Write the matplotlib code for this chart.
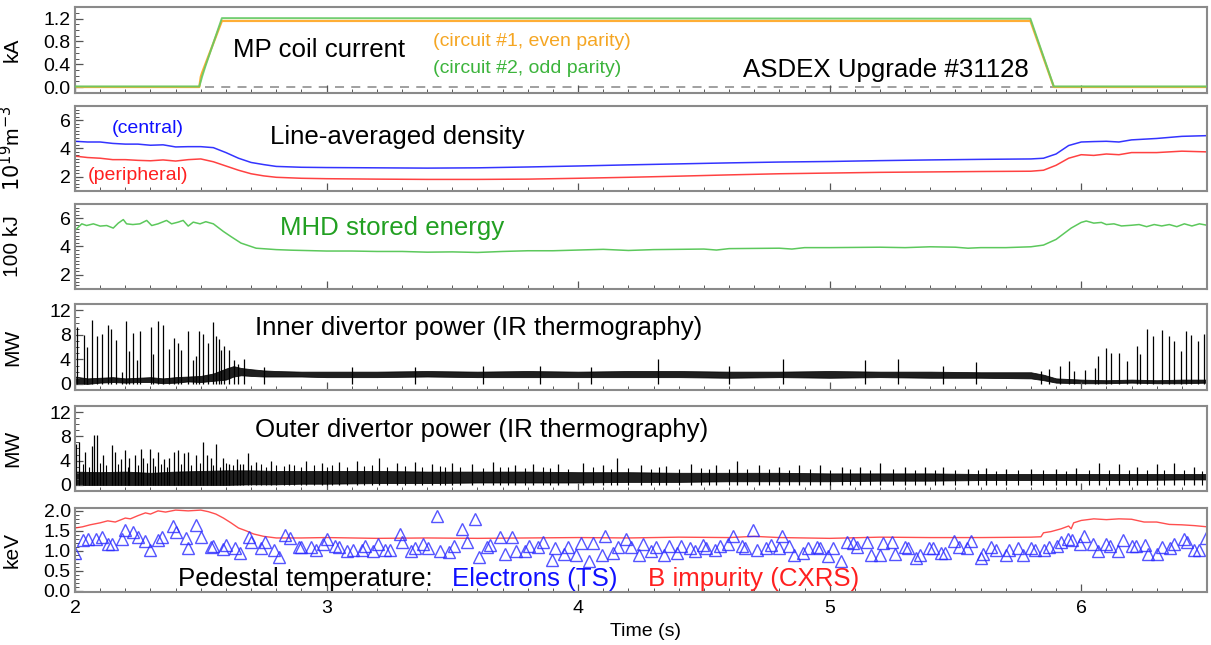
import numpy as np
import matplotlib
matplotlib.use("Agg")
import matplotlib.pyplot as plt
from matplotlib.ticker import MultipleLocator, FixedLocator, NullFormatter

plt.rcParams['font.family'] = ['Liberation Sans', 'DejaVu Sans']

# ---------------- data ----------------
# MP coil current (kA)
current_t = [2.0, 2.494, 2.500, 2.505, 2.518, 2.584, 5.798, 5.891, 6.5]
coil1_kA = [0.0, 0.0, 0.18, 0.25, 0.40, 1.16, 1.16, 0.0, 0.0]
coil2_kA = [0.01, 0.01, 0.10, 0.18, 0.36, 1.21, 1.20, 0.01, 0.01]

# line-averaged density (1e19 m^-3)
dens_t = [2.0, 2.05, 2.1, 2.15, 2.2, 2.25, 2.3, 2.35, 2.4, 2.45, 2.5, 2.55, 2.6, 2.65, 2.7,
          2.75, 2.8, 2.9, 3.0, 3.2, 3.4, 3.6, 3.8, 4.0, 4.2, 4.4, 4.6, 4.8, 5.0, 5.2, 5.4,
          5.6, 5.8, 5.85, 5.9, 5.95, 6.0, 6.05, 6.1, 6.15, 6.2, 6.3, 6.4, 6.5]
dens_central = [4.5, 4.45, 4.45, 4.35, 4.3, 4.3, 4.22, 4.25, 4.1, 4.12, 4.12, 4.05, 3.7, 3.3, 3.0,
                2.85, 2.72, 2.66, 2.64, 2.62, 2.6, 2.62, 2.68, 2.75, 2.83, 2.9, 2.97, 3.03, 3.07, 3.13, 3.18,
                3.22, 3.25, 3.3, 3.6, 4.2, 4.45, 4.48, 4.5, 4.45, 4.6, 4.7, 4.85, 4.9]
dens_peripheral = [3.45, 3.35, 3.3, 3.2, 3.2, 3.15, 3.12, 3.18, 3.1, 3.2, 3.25, 3.05, 2.75, 2.45, 2.2,
                   2.05, 1.95, 1.88, 1.85, 1.82, 1.8, 1.8, 1.82, 1.88, 1.95, 2.03, 2.12, 2.2, 2.25, 2.3, 2.33,
                   2.36, 2.38, 2.45, 2.8, 3.3, 3.55, 3.5, 3.6, 3.55, 3.7, 3.7, 3.8, 3.75]

# MHD stored energy (100 kJ)
wmhd_t = [2.0, 2.013, 2.027, 2.046, 2.073, 2.10, 2.126, 2.152, 2.172, 2.192, 2.205, 2.23, 2.258,
          2.285, 2.305, 2.33, 2.364, 2.384, 2.41, 2.43, 2.45, 2.47, 2.497, 2.52, 2.55, 2.59, 2.62,
          2.66, 2.72, 2.8, 2.86, 3.0, 3.1, 3.2, 3.3, 3.4, 3.5, 3.6, 3.7, 3.8, 3.9, 4.0, 4.1, 4.2,
          4.3, 4.4, 4.5, 4.55, 4.6, 4.8, 4.85, 4.9, 5.0, 5.2, 5.3, 5.4, 5.5, 5.55, 5.6, 5.7, 5.8,
          5.85, 5.9, 5.93, 5.96, 5.98, 6.0, 6.02, 6.05, 6.08, 6.1, 6.13, 6.16, 6.2, 6.23, 6.26,
          6.29, 6.32, 6.35, 6.38, 6.41, 6.44, 6.47, 6.5]
wmhd = [5.13, 5.36, 5.6, 5.48, 5.6, 5.44, 5.48, 5.3, 5.65, 5.9, 5.6, 5.55, 5.6,
        5.84, 5.48, 5.6, 5.84, 5.6, 5.72, 5.84, 5.44, 5.72, 5.6, 5.75, 5.6, 5.06, 4.7,
        4.24, 3.88, 3.78, 3.74, 3.68, 3.68, 3.65, 3.65, 3.6, 3.62, 3.58, 3.65, 3.7, 3.7, 3.75, 3.8, 3.72,
        3.78, 3.8, 3.82, 3.75, 3.85, 3.88, 3.82, 3.92, 3.92, 3.95, 3.92, 3.98, 3.95, 3.88, 3.92, 3.92, 3.98,
        4.1, 4.5, 4.9, 5.3, 5.5, 5.7, 5.8, 5.65, 5.7, 5.55, 5.6, 5.45, 5.5, 5.55, 5.4,
        5.55, 5.45, 5.55, 5.4, 5.6, 5.45, 5.6, 5.5]

# inner divertor power (MW): dense-noise envelope and ELM spikes
inner_band_t = [2.0, 2.05, 2.1, 2.15, 2.2, 2.25, 2.3, 2.35, 2.4, 2.45, 2.5, 2.55, 2.6, 2.63, 2.66,
                2.7, 2.75, 2.8, 2.9, 3.0, 3.2, 3.4, 3.6, 3.8, 4.0, 4.2, 4.4, 4.6, 4.8, 5.0, 5.2,
                5.4, 5.6, 5.8, 5.85, 5.9, 6.0, 6.1, 6.2, 6.3, 6.4, 6.5]
inner_lo = [0.1, 0.0, 0.2, 0.3, 0.2, 0.3, 0.3, 0.1, 0.2, 0.4, 0.3, 0.5, 0.7, 1.2, 1.4,
            1.3, 1.2, 1.2, 1.2, 1.1, 1.1, 1.2, 1.1, 1.1, 1.1, 1.1, 1.1, 1.0, 1.1, 1.0, 1.1,
            1.0, 1.0, 0.9, 0.6, 0.2, 0.1, 0.1, 0.2, 0.1, 0.1, 0.2]
inner_hi = [1.2, 0.9, 1.0, 1.1, 0.9, 1.0, 1.1, 0.9, 1.1, 1.2, 1.3, 1.7, 2.5, 2.9, 2.6,
            2.4, 2.2, 2.1, 2.0, 2.0, 2.0, 2.1, 2.0, 2.1, 2.0, 2.1, 2.1, 2.0, 2.0, 2.1, 2.0,
            2.0, 1.9, 1.9, 1.5, 0.9, 0.7, 0.6, 0.7, 0.6, 0.7, 0.7]
inner_spike_t = [2.009, 2.036, 2.049, 2.068, 2.089, 2.107, 2.130, 2.144, 2.162, 2.186, 2.203, 2.216,
                 2.229, 2.245, 2.260, 2.302, 2.311, 2.329, 2.349, 2.375, 2.395, 2.408, 2.421, 2.450,
                 2.470, 2.481, 2.493, 2.510, 2.530, 2.547, 2.560, 2.571, 2.579, 2.592, 2.613, 2.632,
                 2.649, 2.672, 2.75, 3.10, 3.35, 3.62, 3.85, 4.05, 4.319, 4.60, 4.814, 5.14, 5.27,
                 5.45, 5.58, 5.84, 5.87, 5.915, 5.953, 5.97, 6.014, 6.054, 6.065, 6.10, 6.12, 6.15,
                 6.18, 6.22, 6.235, 6.263, 6.285, 6.32, 6.348, 6.37, 6.395, 6.418, 6.438, 6.463, 6.487]
inner_spike_mw = [9.3, 8.0, 6.1, 10.5, 7.8, 8.1, 9.7, 8.9, 7.2, 2.0, 10.2, 5.3,
                  8.3, 3.9, 8.6, 9.3, 4.8, 10.3, 9.7, 5.7, 7.5, 6.6, 5.5, 8.7,
                  3.9, 4.6, 8.7, 8.2, 6.6, 10.1, 7.8, 7.4, 5.5, 6.2, 5.5, 3.9,
                  3.2, 4.1, 2.8, 2.7, 2.8, 2.9, 2.9, 2.8, 4.0, 2.9, 4.0, 3.9, 4.1,
                  3.0, 3.6, 2.1, 2.4, 2.9, 3.8, 2.1, 2.3, 2.6, 4.5, 5.9, 5.0, 5.1,
                  3.7, 6.2, 4.9, 8.9, 7.8, 8.8, 7.8, 7.0, 5.4, 8.7, 8.0, 7.0, 8.1]

# outer divertor power (MW)
outer_band_t = [2.0, 2.1, 2.2, 2.3, 2.4, 2.5, 2.6, 2.7, 2.8, 2.9, 3.0, 3.2, 3.4, 3.6, 3.8, 4.0,
                4.2, 4.4, 4.6, 4.8, 5.0, 5.2, 5.4, 5.6, 5.8, 6.0, 6.2, 6.4, 6.5]
outer_lo = [0.0, 0.0, 0.0, 0.0, 0.0, 0.0, 0.0, 0.1, 0.1, 0.2, 0.2, 0.3, 0.3, 0.4, 0.4, 0.4,
            0.5, 0.5, 0.6, 0.6, 0.6, 0.7, 0.7, 0.8, 0.8, 0.8, 0.8, 0.9, 0.9]
outer_hi = [2.2, 2.1, 2.2, 2.0, 2.2, 2.3, 2.4, 2.4, 2.3, 2.3, 2.3, 2.3, 2.2, 2.2, 2.2, 2.1,
            2.1, 2.0, 2.0, 2.0, 1.9, 1.9, 1.9, 1.8, 1.8, 1.8, 1.8, 1.8, 1.8]
outer_spike_t = [2.005, 2.017, 2.040, 2.066, 2.076, 2.089, 2.110, 2.146, 2.159, 2.182, 2.199, 2.216,
                 2.238, 2.261, 2.271, 2.298, 2.309, 2.331, 2.354, 2.375, 2.393, 2.408, 2.433,
                 2.450, 2.481, 2.508, 2.523, 2.539, 2.560, 2.587, 2.613, 2.643, 2.669, 2.689,
                 2.72, 2.78, 2.85, 2.92, 2.98, 3.05, 3.12, 3.21, 3.28, 3.35, 3.42, 3.50, 3.58,
                 3.66, 3.75, 3.82, 3.92, 4.02, 4.10, 4.156, 4.25, 4.35, 4.45, 4.55, 4.63, 4.72,
                 4.80, 4.88, 4.96, 5.05, 5.12, 5.20, 5.30, 5.38, 5.45, 5.55, 5.62, 5.70, 5.80,
                 5.90, 5.98, 6.07, 6.15, 6.22, 6.30, 6.37, 6.45]
outer_spike_mw = [6.8, 7.1, 5.5, 6.4, 8.3, 8.2, 5.0, 6.6, 5.5, 4.2, 5.8, 4.4,
                  5.0, 5.9, 4.4, 5.9, 4.4, 5.5, 4.2, 4.4, 5.5, 5.8, 5.2,
                  5.5, 5.0, 7.0, 5.0, 4.4, 6.8, 4.4, 3.4, 4.2, 3.4, 5.2,
                  3.8, 4.0, 3.5, 3.9, 3.6, 3.7, 3.9, 4.4, 3.6, 3.8, 3.5, 3.6, 3.4,
                  3.8, 3.3, 3.5, 3.4, 3.6, 3.2, 4.5, 3.3, 3.1, 3.4, 3.2, 4.0, 3.2,
                  3.0, 3.3, 3.2, 2.9, 3.0, 3.6, 3.0, 2.9, 3.0, 2.6, 2.8, 2.6, 2.7,
                  2.6, 2.8, 3.6, 3.4, 3.0, 3.5, 3.6, 3.0]
# smaller, denser fluctuation peaks riding on the outer band
outer_fluct_t = [2.03, 2.055, 2.10, 2.125, 2.17, 2.21, 2.25, 2.285, 2.32, 2.34, 2.365, 2.42,
                 2.46, 2.495, 2.55, 2.575, 2.60, 2.63, 2.655, 2.70, 2.74, 2.76, 2.80, 2.83,
                 2.87, 2.90, 2.95, 3.0, 3.02, 3.08, 3.15, 3.18, 3.24, 3.31, 3.38, 3.45, 3.47,
                 3.53, 3.62, 3.69, 3.72, 3.79, 3.86, 3.89, 3.96, 4.06, 4.13, 4.2, 4.29, 4.32,
                 4.4, 4.49, 4.52, 4.6, 4.67, 4.76, 4.84, 4.92, 5.0, 5.08, 5.16, 5.25, 5.34,
                 5.42, 5.5, 5.59, 5.66, 5.75, 5.85, 5.94, 6.03, 6.11, 6.19, 6.26, 6.33,
                 6.41, 6.48]
outer_fluct_mw = [3.4, 3.0, 3.6, 3.2, 3.5, 3.0, 3.3, 3.6, 3.1, 3.4, 3.0, 3.5,
                  3.2, 3.6, 3.3, 3.0, 3.6, 3.2, 3.5, 3.2, 3.4, 3.0, 3.3, 3.1,
                  3.2, 3.0, 3.3, 3.0, 3.2, 3.0, 3.1, 3.2, 3.0, 3.1, 2.9, 3.1, 2.9,
                  3.0, 2.8, 3.0, 2.9, 2.8, 3.0, 2.8, 2.7, 2.9, 2.7, 2.8, 2.7, 2.9,
                  2.6, 2.8, 2.6, 2.7, 2.6, 2.7, 2.5, 2.6, 2.5, 2.6, 2.4, 2.6, 2.5,
                  2.4, 2.5, 2.4, 2.3, 2.4, 2.4, 2.3, 2.5, 2.4, 2.5, 2.4, 2.5,
                  2.4, 2.3]

# pedestal electron temperature (TS), keV
te_t = [2.000, 2.033, 2.053, 2.083, 2.106, 2.130, 2.146, 2.186, 2.200, 2.230, 2.250, 2.280, 2.300,
        2.330, 2.345, 2.390, 2.400, 2.440, 2.450, 2.480, 2.500, 2.540, 2.550, 2.587, 2.600, 2.636,
        2.656, 2.690, 2.700, 2.740, 2.755, 2.790, 2.810, 2.835, 2.855, 2.890, 2.900, 2.937, 2.957,
        2.987, 3.000, 3.033, 3.050, 3.082, 3.104, 3.140, 3.153, 3.186, 3.206, 3.232, 3.252, 3.290,
        3.300, 3.334, 3.350, 3.385, 3.405, 3.440, 3.450, 3.486, 3.506, 3.540, 3.557, 3.590, 3.607,
        3.636, 3.650, 3.690, 3.710, 3.736, 3.753, 3.789, 3.806, 3.842, 3.860, 3.895, 3.910, 3.945,
        3.960, 3.990, 4.010, 4.044, 4.060, 4.093, 4.107, 4.140, 4.160, 4.190, 4.210, 4.244, 4.257,
        4.290, 4.310, 4.340, 4.362, 4.394, 4.410, 4.444, 4.464, 4.497, 4.510, 4.544, 4.564, 4.597,
        4.614, 4.650, 4.663, 4.696, 4.710, 4.746, 4.765, 4.800, 4.810, 4.840, 4.860, 4.895, 4.915,
        4.948, 4.960, 4.994, 5.014, 5.047, 5.067, 5.093, 5.110, 5.147, 5.164, 5.200, 5.213, 5.246,
        5.260, 5.300, 5.310, 5.343, 5.360, 5.394, 5.410, 5.442, 5.460, 5.495, 5.513, 5.547, 5.560,
        5.600, 5.610, 5.643, 5.663, 5.700, 5.712, 5.747, 5.770, 5.800, 5.818, 5.853, 5.870, 5.903,
        5.920, 5.946, 5.963, 5.997, 6.013, 6.046, 6.066, 6.100, 6.113, 6.146, 6.166, 6.200, 6.216,
        6.254, 6.266, 6.300, 6.320, 6.354, 6.370, 6.407, 6.420, 6.450, 6.470, 6.497]
te_kev = [0.94, 1.28, 1.30, 1.30, 1.34, 1.18, 1.18, 1.30, 1.52, 1.46, 1.34, 1.24, 1.03,
          1.26, 1.34, 1.61, 1.46, 1.32, 1.06, 1.64, 1.34, 1.10, 1.12, 1.04, 1.15, 1.07,
          0.94, 1.34, 1.22, 1.06, 1.22, 1.02, 0.83, 1.40, 1.32, 1.10, 1.10, 1.10, 1.02,
          1.16, 1.30, 1.13, 1.10, 1.00, 1.03, 1.02, 1.13, 0.98, 1.18, 1.02, 1.02, 1.42,
          1.22, 0.99, 1.06, 1.18, 1.06, 1.87, 0.98, 0.97, 1.13, 1.54, 1.22, 1.80, 0.85,
          1.10, 1.15, 1.34, 0.91, 1.34, 0.98, 0.98, 1.13, 1.10, 1.22, 0.77, 1.07, 0.91,
          1.10, 0.88, 1.20, 0.73, 1.20, 0.88, 1.38, 0.94, 1.10, 1.30, 1.10, 0.88, 1.18,
          1.00, 1.10, 0.90, 1.13, 0.94, 1.13, 1.06, 0.98, 1.15, 1.06, 1.02, 1.13, 1.18,
          1.38, 1.13, 1.06, 1.52, 1.03, 1.07, 1.15, 1.06, 1.38, 1.13, 0.90, 0.94, 1.06,
          1.10, 1.06, 0.87, 1.06, 0.73, 1.22, 1.20, 1.10, 1.22, 0.88, 0.88, 1.20, 1.22,
          0.91, 1.10, 1.07, 0.81, 0.88, 1.08, 1.06, 0.94, 0.94, 1.24, 1.10, 1.06, 1.24,
          0.81, 0.91, 1.10, 1.02, 0.88, 1.03, 1.06, 0.88, 1.07, 1.03, 1.02, 1.10, 1.13,
          1.22, 1.30, 1.28, 1.18, 1.36, 1.18, 0.98, 1.18, 1.13, 0.98, 1.28, 1.13, 1.13,
          1.15, 0.91, 0.91, 1.10, 1.06, 1.18, 1.30, 1.22, 1.02, 1.02, 1.32]

# pedestal B impurity temperature (CXRS), keV
ti_t = [2.0, 2.03, 2.06, 2.1, 2.13, 2.16, 2.2, 2.22, 2.25, 2.28, 2.3, 2.33, 2.36, 2.4, 2.45,
        2.5, 2.53, 2.56, 2.59, 2.62, 2.65, 2.68, 2.71, 2.75, 2.8, 2.9, 3.0, 3.2, 3.4, 3.6,
        3.8, 4.0, 4.2, 4.4, 4.6, 4.7, 4.8, 5.0, 5.2, 5.4, 5.6, 5.8, 5.84, 5.85, 5.88, 5.92,
        5.95, 5.96, 5.97, 6.0, 6.05, 6.1, 6.15, 6.2, 6.25, 6.3, 6.35, 6.4, 6.45, 6.5]
ti_kev = [1.57, 1.6, 1.65, 1.7, 1.75, 1.72, 1.82, 1.8, 1.88, 1.95, 1.92, 2.0, 1.97, 2.02, 2.0,
          2.02, 1.98, 1.92, 1.82, 1.7, 1.57, 1.5, 1.42, 1.36, 1.32, 1.32, 1.33, 1.31, 1.32, 1.31,
          1.32, 1.33, 1.32, 1.34, 1.33, 1.36, 1.33, 1.31, 1.34, 1.33, 1.33, 1.34, 1.35, 1.45, 1.48, 1.55,
          1.62, 1.55, 1.7, 1.76, 1.8, 1.78, 1.8, 1.79, 1.72, 1.72, 1.66, 1.65, 1.63, 1.6]

time_ticks = [2, 3, 4, 5, 6]

# ---------------- figure ----------------
W, H = 1211, 645
fig = plt.figure(figsize=(W / 100, H / 100), dpi=100)

def px_axes(top, bottom, left=75, right=1207):
    return fig.add_axes([left / W, 1 - bottom / H, (right - left) / W, (bottom - top) / H])

frame_col = '#8a8a8a'
axes = [px_axes(7.3, 92.7), px_axes(106, 190.7), px_axes(204, 289),
        px_axes(304.3, 390), px_axes(406, 491), px_axes(507.7, 591.7)]

BIG = 18.6
SMALL = 14
for i, ax in enumerate(axes):
    ax.set_xlim(2, 6.5)
    for s in ax.spines.values():
        s.set_color(frame_col)
        s.set_linewidth(1.5)
    ax.xaxis.set_major_locator(FixedLocator(time_ticks))
    ax.xaxis.set_minor_locator(MultipleLocator(0.1))
    ax.tick_params(axis='both', which='both', direction='in', colors='#555555',
                   labelcolor='black', labelsize=14, top=False, right=False)
    ax.tick_params(which='major', length=6, width=0.9)
    ax.tick_params(which='minor', length=3, width=0.7)
    ax.tick_params(axis='y', which='major', pad=3)
    if i < 5:
        ax.xaxis.set_major_formatter(NullFormatter())

def ylab(ax, text, x=-0.047):
    ax.set_ylabel(text, fontsize=15)
    ax.yaxis.set_label_coords(x, 0.5)

# panel 1: MP coil current
ax = axes[0]
ax.set_ylim(-0.1, 1.4)
ax.axhline(0, color='#999999', lw=1.3, ls=(0, (5, 4)), zorder=1)
ax.plot(current_t, coil1_kA, color='#ffae35', lw=1.6, zorder=2)
ax.plot(current_t, coil2_kA, color='#63c963', lw=1.4, alpha=0.9, zorder=3)
ax.yaxis.set_major_locator(FixedLocator([0.0, 0.4, 0.8, 1.2]))
ax.yaxis.set_minor_locator(MultipleLocator(0.1))
ax.set_yticklabels(['0.0', '0.4', '0.8', '1.2'])
ylab(ax, 'kA')
ax.text(0.1396, 0.50, 'MP coil current', transform=ax.transAxes, fontsize=BIG, va='center', ha='left')
ax.text(0.3163, 0.605, '(circuit #1, even parity)', transform=ax.transAxes, fontsize=SMALL,
        color='#f5a623', va='center', ha='left')
ax.text(0.3163, 0.289, '(circuit #2, odd parity)', transform=ax.transAxes, fontsize=SMALL,
        color='#3cb43c', va='center', ha='left')
ax.text(0.590, 0.266, 'ASDEX Upgrade #31128', transform=ax.transAxes, fontsize=BIG,
        va='center', ha='left')

# panel 2: density
ax = axes[1]
ax.set_ylim(1, 7)
ax.plot(dens_t, dens_central, color='#1010ff', lw=1.1, alpha=0.85)
ax.plot(dens_t, dens_peripheral, color='#ff2020', lw=1.1, alpha=0.85)
ax.yaxis.set_major_locator(FixedLocator([2, 4, 6]))
ax.yaxis.set_minor_locator(MultipleLocator(0.25))
ylab(ax, r'$10^{19}$m$^{-3}$', x=-0.045)
ax.text(0.0327, 0.74, '(central)', transform=ax.transAxes, fontsize=SMALL, color='#1010ff',
        va='center', ha='left')
ax.text(0.0115, 0.174, '(peripheral)', transform=ax.transAxes, fontsize=SMALL, color='#ff2020',
        va='center', ha='left')
ax.text(0.172, 0.634, 'Line-averaged density', transform=ax.transAxes, fontsize=BIG,
        va='center', ha='left')

# panel 3: stored energy
ax = axes[2]
ax.set_ylim(1, 7)
ax.plot(wmhd_t, wmhd, color='#5cc85c', lw=1.1)
ax.yaxis.set_major_locator(FixedLocator([2, 4, 6]))
ax.yaxis.set_minor_locator(MultipleLocator(0.25))
ylab(ax, '100 kJ')
ax.text(0.181, 0.718, 'MHD stored energy', transform=ax.transAxes, fontsize=BIG,
        color='#22a022', va='center', ha='left')

# panel 4: inner divertor
ax = axes[3]
ax.set_ylim(-1, 13)
ax.fill_between(inner_band_t, inner_lo, inner_hi, color='black', lw=0.6, alpha=0.88)
ax.vlines(inner_spike_t, 0, inner_spike_mw, color='black', lw=0.9)
ax.yaxis.set_major_locator(FixedLocator([0, 4, 8, 12]))
ax.yaxis.set_minor_locator(MultipleLocator(1))
ylab(ax, 'MW')
ax.text(0.159, 0.723, 'Inner divertor power (IR thermography)', transform=ax.transAxes,
        fontsize=BIG, va='center', ha='left')

# panel 5: outer divertor
ax = axes[4]
ax.set_ylim(-1, 13)
ax.fill_between(outer_band_t, outer_lo, outer_hi, color='black', lw=0.6, alpha=0.88)
ax.vlines(outer_fluct_t, 0, outer_fluct_mw, color='black', lw=0.8)
ax.vlines(outer_spike_t, 0, outer_spike_mw, color='black', lw=0.9)
ax.yaxis.set_major_locator(FixedLocator([0, 4, 8, 12]))
ax.yaxis.set_minor_locator(MultipleLocator(1))
ylab(ax, 'MW')
ax.text(0.159, 0.718, 'Outer divertor power (IR thermography)', transform=ax.transAxes,
        fontsize=BIG, va='center', ha='left')

# panel 6: pedestal temperature
ax = axes[5]
ax.set_ylim(-0.03, 2.08)
ax.plot(ti_t, ti_kev, color='#ff3030', lw=1.0, alpha=0.85)
ax.plot(te_t, te_kev, ls='none', marker='^', ms=9, mfc='none', mec='#2a2aff', mew=1.0, alpha=0.8)
ax.yaxis.set_major_locator(FixedLocator([0.0, 0.5, 1.0, 1.5, 2.0]))
ax.yaxis.set_minor_locator(MultipleLocator(0.1))
ax.set_yticklabels(['0.0', '0.5', '1.0', '1.5', '2.0'])
ylab(ax, 'keV')
ax.text(0.091, 0.151, 'Pedestal temperature:', transform=ax.transAxes, fontsize=BIG,
        va='center', ha='left')
ax.text(0.333, 0.151, 'Electrons (TS)', transform=ax.transAxes, fontsize=BIG, color='#1010ff',
        va='center', ha='left')
ax.text(0.506, 0.151, 'B impurity (CXRS)', transform=ax.transAxes, fontsize=BIG, color='#ff2020',
        va='center', ha='left')
ax.set_xticklabels([str(t) for t in time_ticks])
ax.tick_params(axis='x', which='major', pad=6, labelsize=14)

fig.text(645 / W, 1 - 632 / H, 'Time (s)', ha='center', va='center', fontsize=14)

fig.savefig('out.png', dpi=100)
